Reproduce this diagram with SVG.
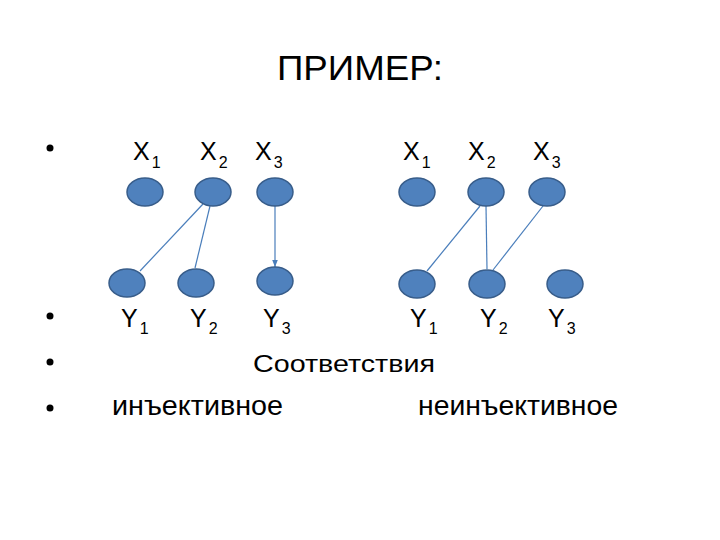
<svg xmlns="http://www.w3.org/2000/svg" width="720" height="540" viewBox="0 0 720 540">
<defs>
<style>
.t{font-family:"Liberation Sans",Arial,sans-serif;fill:#000}
.lbl{font-size:25px}
.sub{font-size:16px}
.n{fill:#4F81BD;stroke:#385D8A;stroke-width:1.5}
.c{stroke:#4A7EBB;stroke-width:1.2;fill:none}
</style>
<marker id="ah" viewBox="0 0 10 10" refX="10" refY="5" markerWidth="6" markerHeight="6" orient="auto">
<path d="M0,1 L10,5 L0,9 z" fill="#4A7EBB"/>
</marker>
</defs>
<rect width="720" height="540" fill="#fff"/>
<text class="t" x="360" y="80" font-size="35" text-anchor="middle" textLength="166" lengthAdjust="spacingAndGlyphs">ПРИМЕР:</text>
<g id="bullets" fill="#000">
<circle cx="50" cy="148" r="3.5"/>
<circle cx="50" cy="316" r="3.5"/>
<circle cx="50" cy="362" r="3.5"/>
<circle cx="50" cy="408" r="3.5"/>
</g>
<g id="connectors">
<line class="c" x1="203" y1="204" x2="140" y2="271"/>
<line class="c" x1="210" y1="206" x2="195" y2="268"/>
<line class="c" x1="275" y1="206" x2="275" y2="267" marker-end="url(#ah)"/>
<line class="c" x1="480" y1="206" x2="427" y2="271"/>
<line class="c" x1="486" y1="206" x2="487" y2="269"/>
<line class="c" x1="543" y1="206" x2="493" y2="270"/>
</g>
<g id="L-X1"><ellipse class="n" cx="145" cy="192" rx="18" ry="14"/><text class="t lbl" x="133" y="160">X<tspan class="sub" dx="2" dy="8">1</tspan></text></g>
<g id="L-X2"><ellipse class="n" cx="213" cy="192" rx="18" ry="14"/><text class="t lbl" x="200" y="160">X<tspan class="sub" dx="2" dy="8">2</tspan></text></g>
<g id="L-X3"><ellipse class="n" cx="275" cy="192" rx="18" ry="14"/><text class="t lbl" x="255" y="160">X<tspan class="sub" dx="2" dy="8">3</tspan></text></g>
<g id="L-Y1"><ellipse class="n" cx="127" cy="283" rx="18" ry="14"/><text class="t lbl" x="121" y="327">Y<tspan class="sub" dx="2" dy="7">1</tspan></text></g>
<g id="L-Y2"><ellipse class="n" cx="196" cy="283" rx="18" ry="14"/><text class="t lbl" x="190" y="327">Y<tspan class="sub" dx="2" dy="7">2</tspan></text></g>
<g id="L-Y3"><ellipse class="n" cx="275" cy="281" rx="18" ry="14"/><text class="t lbl" x="263" y="327">Y<tspan class="sub" dx="2" dy="7">3</tspan></text></g>
<g id="R-X1"><ellipse class="n" cx="417" cy="192" rx="18" ry="14"/><text class="t lbl" x="403" y="160">X<tspan class="sub" dx="2" dy="8">1</tspan></text></g>
<g id="R-X2"><ellipse class="n" cx="486" cy="192" rx="18" ry="14"/><text class="t lbl" x="468" y="160">X<tspan class="sub" dx="2" dy="8">2</tspan></text></g>
<g id="R-X3"><ellipse class="n" cx="547" cy="192" rx="18" ry="14"/><text class="t lbl" x="533" y="160">X<tspan class="sub" dx="2" dy="8">3</tspan></text></g>
<g id="R-Y1"><ellipse class="n" cx="417" cy="284" rx="18" ry="14"/><text class="t lbl" x="410" y="327">Y<tspan class="sub" dx="2" dy="7">1</tspan></text></g>
<g id="R-Y2"><ellipse class="n" cx="487" cy="284" rx="18" ry="14"/><text class="t lbl" x="480" y="327">Y<tspan class="sub" dx="2" dy="7">2</tspan></text></g>
<g id="R-Y3"><ellipse class="n" cx="565" cy="284" rx="18" ry="14"/><text class="t lbl" x="548" y="327">Y<tspan class="sub" dx="2" dy="7">3</tspan></text></g>
<text class="t" x="253" y="372" font-size="24" textLength="182" lengthAdjust="spacingAndGlyphs">Соответствия</text>
<text class="t" x="112" y="415" font-size="28" textLength="171" lengthAdjust="spacingAndGlyphs">инъективное</text>
<text class="t" x="418" y="415" font-size="28" textLength="200" lengthAdjust="spacingAndGlyphs">неинъективное</text>
</svg>
